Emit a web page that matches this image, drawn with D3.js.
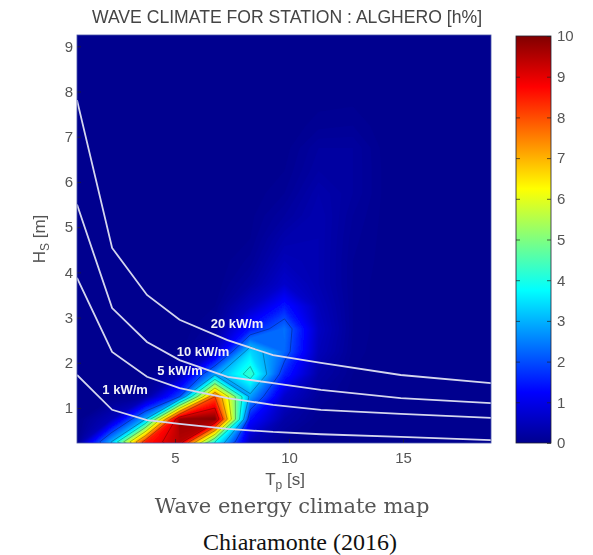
<!DOCTYPE html>
<html><head><meta charset="utf-8">
<style>html,body{margin:0;padding:0;background:#fff}svg{display:block}</style>
<script src="https://cdn.jsdelivr.net/npm/d3@7"></script></head>
<body><div id="chart"></div>
<script>
const titleText = "WAVE CLIMATE FOR STATION : ALGHERO [h%]";
const captionText = "Wave energy climate map";
const sourceText = "Chiaramonte (2016)";
const tpNodes = [0.7,2.2,3.7,5.2,6.75,8.3,9.8,11.3,12.8,14.3,15.8,17.3,18.9];
const hsNodes = [0.25,0.75,1.25,1.75,2.25,2.75,3.25,3.75,4.25,4.75,5.25,5.75,6.25,6.75,7.25,7.75,8.25,8.75,9.25];
const climate = [
 [0,3,8.5,9.5,4,0.5,0.08,0,0,0,0,0,0],
 [0,0.5,3,9.8,10,1.4,0.3,0.05,0,0,0,0,0],
 [0,0,0.2,2,8,2.8,0.7,0.15,0.02,0,0,0,0],
 [0,0,0,0.4,2.8,4.3,1.6,0.3,0.05,0,0,0,0],
 [0,0,0,0,0.6,3.4,2.3,0.5,0.08,0,0,0,0],
 [0,0,0,0,0.15,1.5,2.4,0.6,0.1,0,0,0,0],
 [0,0,0,0,0.05,0.6,1.5,0.5,0.1,0,0,0,0],
 [0,0,0,0,0,0.25,0.7,0.4,0.1,0,0,0,0],
 [0,0,0,0,0,0.12,0.5,0.4,0.1,0.02,0,0,0],
 [0,0,0,0,0,0.05,0.35,0.4,0.12,0.02,0,0,0],
 [0,0,0,0,0,0.03,0.2,0.4,0.15,0.02,0,0,0],
 [0,0,0,0,0,0.01,0.1,0.35,0.2,0.02,0,0,0],
 [0,0,0,0,0,0,0.05,0.25,0.2,0.02,0,0,0],
 [0,0,0,0,0,0,0.02,0.2,0.2,0.01,0,0,0],
 [0,0,0,0,0,0,0,0.08,0.1,0,0,0,0],
 [0,0,0,0,0,0,0,0.03,0.04,0,0,0,0],
 [0,0,0,0,0,0,0,0,0,0,0,0,0],
 [0,0,0,0,0,0,0,0,0,0,0,0,0],
 [0,0,0,0,0,0,0,0,0,0,0,0,0]
];
const powerTp = [0.7,2.24,3.77,5.2,7.3,9.3,11.4,14.9,18.86];
const power20 = [7.81,4.54,3.5,2.95,2.5,2.17,2.0,1.73,1.55];
const power10 = [5.5,3.21,2.46,2.06,1.69,1.55,1.4,1.22,1.11];
const power5  = [3.88,2.24,1.69,1.44,1.22,1.07,0.96,0.87,0.78];
const power1  = [1.73,0.96,0.73,0.65,0.54,0.47,0.42,0.36,0.29];
const powerLabels = ["20 kW/m","10 kW/m","5 kW/m","1 kW/m"];
const labelTp = [7.72,6.23,5.22,2.81];
const labelHs = [2.78,2.16,1.74,1.32];
const xTicks = [5,10,15];
const yTicks = [1,2,3,4,5,6,7,8,9];
const cTicks = [0,1,2,3,4,5,6,7,8,9,10];
const lineLevels = [2,3,4,5,6,7,8,9];

const W=593,H=555;
const plot={l:77,r:491,t:35,b:443};
const bar={l:516,r:551,t:36,b:443};
const sans="'Liberation Sans',Arial,sans-serif";
const x=d3.scaleLinear().domain([0.7,18.86]).range([plot.l,plot.r]);
const y=d3.scaleLinear().domain([0.226,9.25]).range([plot.b,plot.t]);
const c=d3.scaleLinear().domain([0,10]).range([bar.b,bar.t]);
const jetT=[0,0.125,0.375,0.625,0.875,1];
const jet=d3.scaleLinear().domain(jetT.map(t=>t*10)).range(["#00008f","#0000ff","#00ffff","#ffff00","#ff0000","#800000"]).clamp(true);

const svg=d3.select("#chart").append("svg").attr("width",W).attr("height",H).attr("viewBox",[0,0,W,H]);
const defs=svg.append("defs");
defs.append("clipPath").attr("id","pc").append("rect").attr("x",plot.l).attr("y",plot.t).attr("width",plot.r-plot.l).attr("height",plot.b-plot.t);
defs.append("filter").attr("id","soft").attr("x","-5%").attr("y","-5%").attr("width","110%").attr("height","110%")
  .append("feGaussianBlur").attr("stdDeviation",0.7);
defs.append("filter").attr("id","softText").attr("x","-10%").attr("y","-30%").attr("width","120%").attr("height","160%")
  .append("feGaussianBlur").attr("stdDeviation",0.55);
const grad=defs.append("linearGradient").attr("id","jetg").attr("x1",0).attr("x2",0).attr("y1",1).attr("y2",0);
jetT.forEach(t=>grad.append("stop").attr("offset",t).attr("stop-color",jet(t*10)));

const nx=tpNodes.length,ny=hsNodes.length;
const flat=climate.flat();
const gx=d3.scaleLinear().domain(tpNodes.map((_,i)=>i+0.5)).range(tpNodes);
const gy=d3.scaleLinear().domain(hsNodes.map((_,i)=>i+0.5)).range(hsNodes);
const proj=d3.geoTransform({point(a,b){this.stream.point(x(gx(a)),y(gy(b)));}});
const path=d3.geoPath(proj);
const heat=svg.append("g").attr("clip-path","url(#pc)");
const inner=heat.append("g").attr("filter","url(#soft)");
inner.append("rect").attr("x",plot.l-5).attr("y",plot.t-5).attr("width",plot.r-plot.l+10).attr("height",plot.b-plot.t+10).attr("fill",jet(0));
const fine=d3.range(0.05,10,0.05);
inner.selectAll("path.f").data(d3.contours().size([nx,ny]).thresholds(fine)(flat)).join("path").attr("class","f")
  .attr("d",path).attr("fill",d=>jet(d.value));
inner.selectAll("path.l").data(d3.contours().size([nx,ny]).thresholds(lineLevels)(flat)).join("path").attr("class","l")
  .attr("d",path).attr("fill","none").attr("stroke","#000").attr("stroke-opacity",0.4).attr("stroke-width",0.7);

const line=d3.line().x((d,i)=>x(powerTp[i])).y(d=>y(d));
heat.selectAll("path.p").data([power20,power10,power5,power1]).join("path").attr("class","p")
  .attr("d",line).attr("fill","none").attr("stroke","#d4d6ee").attr("stroke-width",1.8);
heat.selectAll("text").data(powerLabels).join("text")
  .attr("x",(d,i)=>x(labelTp[i])).attr("y",(d,i)=>y(labelHs[i])).attr("text-anchor","middle")
  .attr("font-family",sans).attr("font-size",13).attr("font-weight","bold").attr("fill","#f2f2f6")
  .attr("filter","url(#softText)").text(d=>d);

function style(g){
  g.selectAll("text").attr("font-family",sans).attr("font-size",15).attr("fill","#555").attr("filter","url(#softText)");
  g.selectAll("line").attr("stroke","#222").attr("stroke-width",0.7);
  g.select(".domain").remove();
}
svg.append("g").attr("transform",`translate(0,${plot.b})`).call(d3.axisBottom(x).tickValues(xTicks).tickSize(-4).tickPadding(9).tickFormat(d3.format("d"))).call(style);
svg.append("g").attr("transform",`translate(${plot.l},0)`).call(d3.axisLeft(y).tickValues(yTicks).tickSize(-4).tickPadding(4).tickFormat(d3.format("d"))).call(style);
svg.append("rect").attr("x",plot.l).attr("y",plot.t).attr("width",plot.r-plot.l).attr("height",plot.b-plot.t).attr("fill","none").attr("stroke","#4a55a8").attr("stroke-width",0.8);

svg.append("rect").attr("x",bar.l).attr("y",bar.t).attr("width",bar.r-bar.l).attr("height",bar.b-bar.t).attr("fill","url(#jetg)").attr("stroke","#223").attr("stroke-width",0.8);
svg.append("g").attr("transform",`translate(${bar.r},0)`).call(d3.axisRight(c).tickValues(cTicks).tickSize(-4).tickPadding(6).tickFormat(d3.format("d"))).call(style);
svg.append("g").attr("transform",`translate(${bar.l},0)`).call(d3.axisRight(c).tickValues(cTicks.slice(1,-1)).tickSize(4).tickFormat("")).call(style);

svg.append("text").attr("x",287).attr("y",23).attr("text-anchor","middle").attr("font-family",sans).attr("font-size",17.6).attr("fill","#444").attr("filter","url(#softText)").text(titleText);
const yl=svg.append("text").attr("transform","translate(45,239) rotate(-90)").attr("text-anchor","middle").attr("font-family",sans).attr("font-size",17).attr("fill","#555").attr("filter","url(#softText)");
yl.append("tspan").text("H");yl.append("tspan").attr("font-size",12).attr("dy",4).text("S");yl.append("tspan").attr("dy",-4).text(" [m]");
const xl=svg.append("text").attr("x",285).attr("y",485).attr("text-anchor","middle").attr("font-family",sans).attr("font-size",17).attr("fill","#555").attr("filter","url(#softText)");
xl.append("tspan").text("T");xl.append("tspan").attr("font-size",12).attr("dy",4).text("p");xl.append("tspan").attr("dy",-4).text(" [s]");
svg.append("text").attr("x",292).attr("y",513).attr("text-anchor","middle").attr("font-family","'DejaVu Serif','Liberation Serif',serif").attr("font-size",21).attr("fill","#555").attr("filter","url(#softText)").text(captionText);
svg.append("text").attr("x",300).attr("y",550).attr("text-anchor","middle").attr("font-family","'Liberation Serif',serif").attr("font-size",24).attr("fill","#111").text(sourceText);
</script></body></html>
